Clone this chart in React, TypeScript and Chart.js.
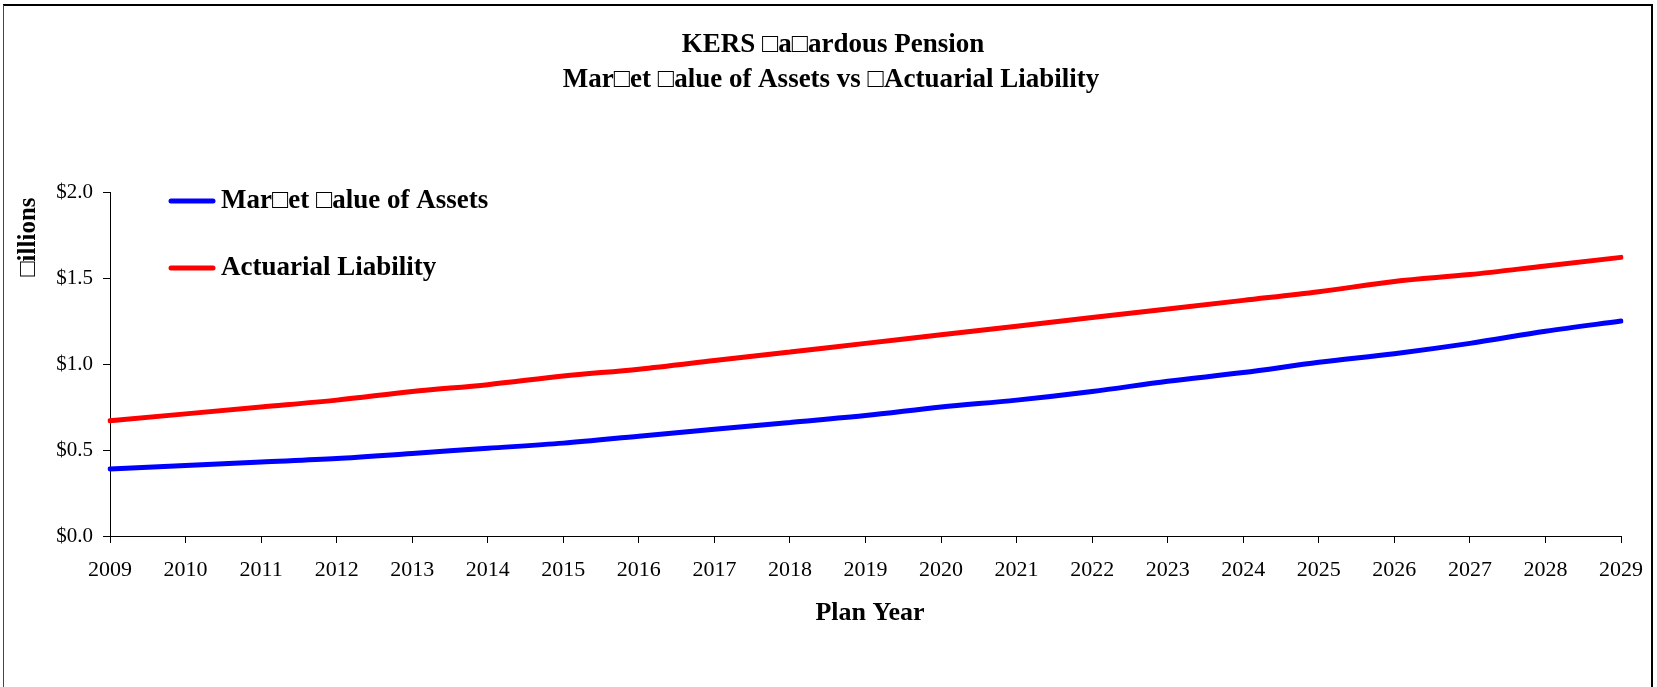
import React, { useEffect, useRef } from "react";
import { Chart, registerables } from "chart.js";

Chart.register(...registerables);

const years = ["2009","2010","2011","2012","2013","2014","2015","2016","2017","2018","2019","2020","2021","2022","2023","2024","2025","2026","2027","2028","2029"];
const marketValue = [0.39,0.41,0.43,0.45,0.48,0.51,0.54,0.58,0.62,0.66,0.70,0.75,0.79,0.84,0.90,0.95,1.01,1.06,1.12,1.19,1.25];
const actuarialLiability = [0.67,0.71,0.75,0.79,0.84,0.88,0.93,0.97,1.02,1.07,1.12,1.17,1.22,1.27,1.32,1.37,1.42,1.48,1.52,1.57,1.62];
const seriesLabels = ["Mar\u25A1et \u25A1alue of Assets", "Actuarial Liability"];
const titleLines = ["KERS \u25A1a\u25A1ardous Pension", "Mar\u25A1et \u25A1alue of Assets vs \u25A1Actuarial Liability"];
const xTitle = "Plan Year";
const yTitle = "\u25A1illions";

const SERIF = "'Liberation Serif', 'Times New Roman', serif";

export default function App() {
  const ref = useRef<HTMLCanvasElement | null>(null);
  useEffect(() => {
    document.body.style.margin = "0";
    const canvas = ref.current!;
    const deco = {
      id: "deco",
      beforeDraw(chart: any) {
        const c = chart.ctx;
        c.save();
        c.fillStyle = "#fff";
        c.fillRect(0, 0, chart.width, chart.height);
        c.strokeStyle = "#000";
        c.lineWidth = 2;
        c.beginPath();
        c.moveTo(3, 5);
        c.lineTo(1653, 5);
        c.stroke();
        c.beginPath();
        c.moveTo(1652, 5);
        c.lineTo(1652, 687);
        c.stroke();
        c.lineWidth = 1;
        c.strokeStyle = "#444";
        c.beginPath();
        c.moveTo(3.5, 5);
        c.lineTo(3.5, 687);
        c.stroke();
        c.restore();
      },
      afterDraw(chart: any) {
        const c = chart.ctx;
        c.save();
        c.fillStyle = "#000";
        c.textAlign = "center";
        c.textBaseline = "middle";
        c.font = `bold 27px ${SERIF}`;
        c.fillText(titleLines[0], 833, 45);
        c.fillText(titleLines[1], 831, 80);
        c.font = `bold 26px ${SERIF}`;
        c.fillText(xTitle, 870, 613);
        c.save();
        c.translate(29, 237);
        c.rotate(-Math.PI / 2);
        c.font = `bold 25px ${SERIF}`;
        c.fillText(yTitle, 0, 0);
        c.restore();
        const ys = [201, 268];
        chart.data.datasets.forEach((ds: any, i: number) => {
          c.strokeStyle = ds.borderColor;
          c.lineWidth = 5;
          c.lineCap = "round";
          c.beginPath();
          c.moveTo(171, ys[i]);
          c.lineTo(213, ys[i]);
          c.stroke();
          c.textAlign = "left";
          c.font = `bold 27px ${SERIF}`;
          c.fillStyle = "#000";
          c.fillText(ds.label, 221, ys[i]);
        });
        c.restore();
      },
    };
    const chart = new Chart(canvas, {
      type: "line",
      data: {
        labels: years,
        datasets: [
          { label: seriesLabels[0], data: marketValue, borderColor: "#0000ff", backgroundColor: "#0000ff", borderWidth: 5, pointRadius: 0, cubicInterpolationMode: "monotone", borderCapStyle: "round" },
          { label: seriesLabels[1], data: actuarialLiability, borderColor: "#ff0000", backgroundColor: "#ff0000", borderWidth: 5, pointRadius: 0, cubicInterpolationMode: "monotone", borderCapStyle: "round" },
        ],
      },
      options: {
        animation: false,
        responsive: false,
        devicePixelRatio: 1,
        layout: { padding: { left: 0, top: 192, right: 25, bottom: 0 } },
        plugins: { legend: { display: false }, title: { display: false }, tooltip: { enabled: false } },
        scales: {
          x: {
            offset: false,
            grid: { drawOnChartArea: false, color: "#000", tickLength: 7, tickColor: "#000" },
            border: { color: "#000", width: 1 },
            ticks: { color: "#000", font: { family: SERIF, size: 22 }, padding: 14, maxRotation: 0, autoSkip: false },
            afterFit(s: any) { s.height = 151; },
          },
          y: {
            min: 0,
            max: 2,
            grid: { drawOnChartArea: false, color: "#000", tickLength: 7, tickColor: "#000" },
            border: { color: "#000", width: 1 },
            ticks: { color: "#000", stepSize: 0.5, font: { family: SERIF, size: 21 }, padding: 10, callback: (v: any) => "$" + Number(v).toFixed(1) },
            afterFit(s: any) { s.width = 110; },
          },
        },
      },
      plugins: [deco],
    });
    return () => chart.destroy();
  }, []);
  return (
    <div style={{ width: 1657, height: 687 }}>
      <canvas ref={ref} width={1657} height={687} style={{ display: "block" }} />
    </div>
  );
}
